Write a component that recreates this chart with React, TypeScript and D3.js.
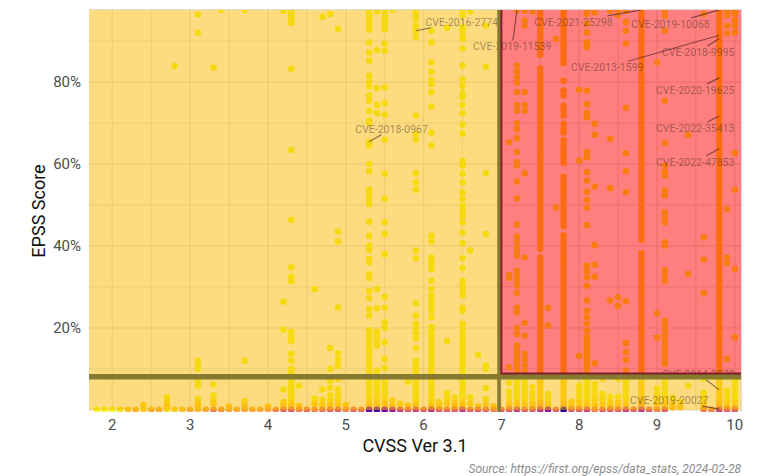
import React from "react";
import * as d3 from "d3";

// ---- EPSS (percent) of CVEs, grouped by CVSS v3.1 base score ----
const cvss24 = [1.2];
const cvss27 = [3.0, 2.0, 0.9];
const cvss28 = [83.9];
const cvss31 = [96.4, 92.0, 12.0, 11.2, 10.0, 7.1, 5.9, 2.7, 1.9, 1.1];
const cvss33 = [83.5, 6.2, 3.5, 2.4, 1.5];
const cvss34 = [97.6];
const cvss35 = [0.8];
const cvss37 = [97.6, 12.0, 2.2, 1.0];
const cvss40 = [0.8];
const cvss42 = [97.3, 26.4, 19.6, 5.0, 2.0, 1.0];
const cvss43 = [97.6, 96.8, 96.0, 95.2, 94.4, 83.2, 63.4, 46.4, 34.8, 32.5, 31.4, 19.0, 17.7, 16.8, 13.7, 12.0, 10.0, 9.0, 8.0, 7.0, 6.0, 5.0, 4.0, 3.0, 2.0, 1.0];
const cvss44 = [5.9, 1.0];
const cvss46 = [29.5, 2.7, 1.5];
const cvss47 = [95.9, 5.0, 2.5, 1.2];
const cvss48 = [96.6, 15.1, 10.0, 7.1, 5.4, 3.5, 2.2, 1.0];
const cvss49 = [92.9, 43.5, 41.1, 25.0, 13.8, 12.2, 10.8, 7.6, 5.0, 3.8, 2.6, 1.4];
const cvss50 = [1.2];
const cvss53 = [97.6, 96.8, 96.0, 95.2, 94.4, 93.6, 92.8, 89.7, 87.2, 85.2, 81.5, 80.1, 78.9, 76.7, 75.4, 72.9, 70.6, 70.0, 65.4, 64.5, 60.0, 58.2, 53.7, 52.5, 51.4, 50.2, 45.9, 42.4, 40.1, 39.0, 36.8, 36.0, 33.0, 32.2, 29.0, 27.3, 24.6, 23.0, 19.5, 18.5, 17.5, 16.5, 15.5, 14.5, 13.5, 12.5, 11.5, 10.5, 9.5, 8.5, 7.5, 6.5, 5.5, 4.5, 3.5, 2.5, 1.5, 0.8];
const cvss54 = [97.2, 87.8, 78.5, 74.4, 72.4, 29.5, 24.8, 19.1, 18.0, 16.8, 15.7, 9.6, 8.6, 7.6, 6.6, 5.6, 4.6, 3.6, 2.6, 1.6, 0.7];
const cvss55 = [97.6, 96.8, 96.0, 95.2, 94.4, 93.6, 92.9, 89.3, 87.6, 78.7, 74.8, 72.0, 65.9, 57.6, 51.5, 45.8, 42.9, 38.0, 27.6, 25.0, 21.4, 20.0, 16.5, 12.4, 10.2, 6.8, 5.8, 4.8, 3.8, 2.8, 1.8, 0.8];
const cvss56 = [97.6, 2.3, 1.0];
const cvss57 = [1.5];
const cvss58 = [6.9, 1.0];
const cvss59 = [97.6, 96.6, 95.4, 93.7, 92.5, 91.0, 71.8, 67.3, 65.9, 57.7, 55.5, 53.7, 38.9, 37.0, 26.0, 23.0, 21.0, 19.9, 18.7, 17.5, 15.1, 12.0, 11.0, 10.0, 9.0, 8.0, 7.0, 6.0, 5.0, 4.0, 3.0, 2.0, 1.0];
const cvss61 = [92.5, 89.7, 84.8, 82.5, 80.5, 79.5, 77.5, 74.0, 67.6, 64.5, 42.5, 41.1, 37.2, 36.2, 35.4, 34.4, 31.5, 29.5, 27.9, 26.7, 25.5, 24.2, 22.6, 20.2, 19.2, 18.2, 17.2, 16.2, 15.2, 14.2, 13.2, 12.2, 11.2, 10.2, 9.2, 8.2, 7.2, 6.2, 5.2, 4.2, 3.2, 2.2, 1.2, 0.5];
const cvss62 = [1.9, 0.8];
const cvss63 = [93.2, 16.8, 4.1, 2.7, 1.5];
const cvss64 = [3.1, 1.8, 0.8];
const cvss65 = [97.6, 96.3, 93.3, 92.4, 91.0, 90.5, 88.2, 84.0, 80.6, 79.0, 77.2, 76.3, 74.4, 72.4, 69.6, 67.4, 60.7, 59.6, 57.6, 55.5, 53.1, 51.5, 49.8, 48.6, 47.4, 45.8, 43.3, 40.7, 37.0, 34.6, 31.5, 30.3, 29.1, 27.9, 24.9, 24.2, 21.0, 19.9, 18.7, 17.6, 16.4, 15.4, 14.4, 13.4, 12.4, 11.4, 10.4, 9.4, 8.4, 7.4, 6.4, 5.4, 4.4, 3.4, 2.4, 1.4, 0.6];
const cvss66 = [97.2, 38.9, 3.1, 1.6];
const cvss67 = [13.4, 0.8];
const cvss68 = [93.7, 83.7, 57.8, 42.9, 10.8, 10.0, 5.3, 2.6, 1.3];
const cvss69 = [0.8];
const cvss71 = [65.3, 32.9, 32.2, 10.4, 6.6, 4.4, 3.0, 1.6, 0.6];
const cvss72 = [97.5, 84.0, 82.5, 81.1, 79.8, 77.5, 74.4, 73.0, 70.0, 68.5, 66.3, 62.9, 60.5, 59.6, 55.7, 51.6, 45.2, 42.3, 41.0, 39.6, 38.3, 37.6, 34.0, 32.8, 31.7, 30.3, 28.5, 25.0, 23.8, 20.0, 18.5, 15.7, 14.7, 13.7, 12.7, 11.7, 10.7, 9.7, 8.7, 7.7, 6.7, 5.7, 4.7, 3.7, 2.7, 1.7, 0.7];
const cvss73 = [97.4, 95.0, 93.7, 77.5, 74.4, 73.0, 57.7, 37.2, 21.2, 18.1, 13.7, 12.3, 10.9, 9.6, 7.2, 6.2, 5.2, 4.2, 3.2, 2.2, 1.2];
const cvss74 = [97.2, 5.6, 4.2, 2.9, 1.6, 0.6];
const cvss75 = [97.6, 96.5, 95.4, 94.3, 93.2, 92.1, 91.0, 89.9, 88.8, 87.7, 86.6, 83.3, 82.2, 81.1, 80.0, 78.9, 77.8, 76.7, 75.6, 74.5, 73.4, 72.3, 71.2, 70.1, 69.0, 67.9, 66.8, 65.7, 64.6, 63.5, 62.4, 61.3, 60.2, 59.1, 58.0, 56.9, 55.8, 54.7, 53.6, 52.5, 51.4, 50.3, 49.2, 48.1, 47.0, 45.9, 44.8, 43.7, 42.6, 41.5, 40.4, 39.3, 37.1, 36.0, 34.9, 33.8, 32.7, 31.6, 30.5, 29.4, 28.3, 27.2, 26.1, 25.0, 23.9, 22.8, 21.7, 20.6, 19.5, 18.4, 17.3, 16.2, 15.1, 14.0, 12.9, 11.8, 10.7, 9.6, 8.5, 7.4, 6.3, 5.2, 4.1, 3.0, 1.9, 0.8];
const cvss76 = [24.9, 20.6, 3.9, 2.7, 1.5, 0.6];
const cvss77 = [90.5, 49.4];
const cvss78 = [97.6, 96.6, 95.6, 94.6, 93.6, 92.6, 91.6, 90.6, 89.6, 88.6, 87.6, 86.6, 85.6, 84.6, 80.3, 77.9, 76.7, 74.2, 73.0, 71.8, 69.8, 68.5, 67.7, 65.8, 64.7, 63.6, 62.5, 61.4, 60.3, 56.9, 55.8, 54.7, 53.6, 52.5, 51.4, 50.3, 49.2, 48.1, 47.0, 45.9, 44.8, 42.6, 41.5, 40.4, 39.3, 38.2, 37.1, 36.0, 34.9, 33.8, 32.7, 31.6, 30.5, 29.4, 28.3, 27.2, 26.1, 25.0, 23.9, 22.8, 21.7, 20.6, 19.5, 18.4, 17.3, 16.2, 15.1, 14.0, 12.9, 11.8, 10.7, 9.6, 8.5, 7.4, 6.3, 5.2, 4.1, 3.0, 1.9, 0.8];
const cvss79 = [2.0, 0.8];
const cvss80 = [78.1, 60.8, 13.2, 5.9, 4.6, 3.3, 2.0, 0.7];
const cvss81 = [97.6, 96.6, 94.2, 92.1, 89.7, 88.5, 77.9, 74.6, 72.4, 71.4, 62.9, 61.6, 58.0, 55.9, 53.2, 51.2, 49.3, 45.1, 35.2, 33.8, 32.3, 30.3, 26.7, 24.2, 22.6, 21.0, 19.3, 17.7, 16.7, 15.7, 14.7, 13.7, 12.7, 11.7, 10.7, 9.7, 8.7, 7.7, 6.7, 5.7, 4.7, 3.7, 2.7, 1.7, 0.7];
const cvss82 = [97.0, 69.8, 67.1, 54.5, 40.2, 35.4, 32.5, 11.4, 6.3, 5.0, 3.7, 2.4, 1.1];
const cvss83 = [7.6, 3.9, 2.6, 1.3];
const cvss84 = [97.4, 66.1, 54.1, 26.7, 3.2, 1.8, 0.7];
const cvss85 = [97.6, 96.3, 27.5, 25.4, 7.6, 3.2, 1.8, 0.7];
const cvss86 = [97.4, 94.6, 92.5, 89.4, 73.7, 62.6, 58.2, 53.1, 26.5, 16.3, 14.1, 12.2, 9.6, 8.4, 7.2, 6.0, 4.8, 3.6, 2.4, 1.2];
const cvss88 = [97.6, 96.5, 95.4, 94.3, 93.2, 92.1, 91.0, 89.9, 88.8, 87.7, 86.6, 85.5, 84.4, 83.3, 82.2, 81.1, 80.0, 78.9, 77.8, 76.7, 75.6, 74.5, 73.4, 72.3, 71.2, 70.1, 69.0, 67.9, 66.8, 65.7, 64.6, 63.5, 62.4, 61.3, 60.2, 59.1, 58.0, 56.9, 55.8, 54.7, 53.6, 52.5, 51.4, 50.3, 49.2, 48.1, 47.0, 45.9, 44.8, 43.7, 42.6, 41.5, 38.2, 37.1, 36.0, 34.9, 33.8, 32.7, 31.6, 30.5, 29.4, 28.3, 27.2, 26.1, 25.0, 23.9, 22.8, 21.7, 20.6, 19.5, 18.4, 17.3, 16.2, 15.1, 14.0, 12.9, 11.8, 10.7, 9.6, 8.5, 7.4, 6.3, 5.2, 4.1, 3.0, 1.9, 0.8];
const cvss90 = [84.8, 23.6, 17.7, 5.2, 3.9, 2.6, 1.3];
const cvss91 = [97.6, 96.2, 92.5, 75.4, 65.1, 59.6, 58.1, 57.1, 53.5, 52.3, 48.2, 47.1, 45.8, 40.9, 40.1, 34.1, 32.9, 31.5, 21.8, 20.6, 19.4, 18.2, 17.0, 15.8, 14.6, 13.4, 12.2, 11.2, 7.6, 6.4, 5.2, 4.0, 2.8, 1.6, 0.7];
const cvss92 = [3.0, 1.6, 0.6];
const cvss93 = [1.9, 0.7];
const cvss94 = [67.1, 33.2, 5.9];
const cvss96 = [96.6, 42.1, 36.7, 28.5, 7.6, 4.2, 2.9, 1.6, 0.6];
const cvss98 = [97.6, 96.5, 95.4, 94.3, 93.2, 92.1, 91.0, 89.9, 88.8, 87.7, 86.6, 85.5, 84.4, 83.3, 82.2, 81.1, 80.0, 78.9, 77.8, 76.7, 75.6, 74.5, 73.4, 72.3, 71.2, 70.1, 69.0, 67.9, 66.8, 65.7, 64.6, 63.5, 62.4, 61.3, 60.2, 59.1, 58.0, 56.9, 55.8, 54.7, 53.6, 52.5, 51.4, 50.3, 49.2, 48.1, 47.0, 45.9, 44.8, 43.7, 42.6, 41.5, 40.4, 39.3, 38.2, 37.1, 36.0, 34.9, 33.8, 32.7, 31.6, 30.5, 29.4, 28.3, 27.2, 26.1, 25.0, 23.9, 22.8, 21.7, 20.6, 19.5, 18.4, 17.3, 16.2, 15.1, 14.0, 12.9, 11.8, 10.7, 9.6, 8.5, 7.4, 6.3, 5.2, 4.1, 3.0, 1.9, 0.8];
const cvss99 = [97.4, 96.2, 93.7, 91.9, 49.0, 37.2, 35.8, 12.4, 4.7, 3.4, 2.1, 0.8];
const cvss100 = [97.4, 96.6, 95.0, 93.7, 92.1, 62.7, 53.7, 34.4, 17.7, 7.1, 5.9, 4.6, 3.3, 2.0, 0.7];

// Heavily populated score columns render one step darker on the plasma ramp
const denseScores = [7.5, 7.8, 8.8, 9.8];

const columns: { score: number; epss: number[] }[] = [
  { score: 2.4, epss: cvss24 }, { score: 2.7, epss: cvss27 }, { score: 2.8, epss: cvss28 },
  { score: 3.1, epss: cvss31 }, { score: 3.3, epss: cvss33 }, { score: 3.4, epss: cvss34 },
  { score: 3.5, epss: cvss35 }, { score: 3.7, epss: cvss37 }, { score: 4.0, epss: cvss40 },
  { score: 4.2, epss: cvss42 }, { score: 4.3, epss: cvss43 }, { score: 4.4, epss: cvss44 },
  { score: 4.6, epss: cvss46 }, { score: 4.7, epss: cvss47 }, { score: 4.8, epss: cvss48 },
  { score: 4.9, epss: cvss49 }, { score: 5.0, epss: cvss50 }, { score: 5.3, epss: cvss53 },
  { score: 5.4, epss: cvss54 }, { score: 5.5, epss: cvss55 }, { score: 5.6, epss: cvss56 },
  { score: 5.7, epss: cvss57 }, { score: 5.8, epss: cvss58 }, { score: 5.9, epss: cvss59 },
  { score: 6.1, epss: cvss61 }, { score: 6.2, epss: cvss62 }, { score: 6.3, epss: cvss63 },
  { score: 6.4, epss: cvss64 }, { score: 6.5, epss: cvss65 }, { score: 6.6, epss: cvss66 },
  { score: 6.7, epss: cvss67 }, { score: 6.8, epss: cvss68 }, { score: 6.9, epss: cvss69 },
  { score: 7.1, epss: cvss71 }, { score: 7.2, epss: cvss72 }, { score: 7.3, epss: cvss73 },
  { score: 7.4, epss: cvss74 }, { score: 7.5, epss: cvss75 }, { score: 7.6, epss: cvss76 },
  { score: 7.7, epss: cvss77 }, { score: 7.8, epss: cvss78 }, { score: 7.9, epss: cvss79 },
  { score: 8.0, epss: cvss80 }, { score: 8.1, epss: cvss81 }, { score: 8.2, epss: cvss82 },
  { score: 8.3, epss: cvss83 }, { score: 8.4, epss: cvss84 }, { score: 8.5, epss: cvss85 },
  { score: 8.6, epss: cvss86 }, { score: 8.8, epss: cvss88 }, { score: 9.0, epss: cvss90 },
  { score: 9.1, epss: cvss91 }, { score: 9.2, epss: cvss92 }, { score: 9.3, epss: cvss93 },
  { score: 9.4, epss: cvss94 }, { score: 9.6, epss: cvss96 }, { score: 9.8, epss: cvss98 },
  { score: 9.9, epss: cvss99 }, { score: 10.0, epss: cvss100 },
];

// Near-zero EPSS row: one marker per score, shaded by how many CVEs pile up there (1 = few)
const floorScores = [1.8, 1.9, 2.0, 2.1, 2.2, 2.3, 2.4, 2.5, 2.6, 2.7, 2.8, 2.9, 3.0, 3.1, 3.2, 3.3, 3.4, 3.5, 3.6, 3.7, 3.8, 3.9, 4.0, 4.1, 4.2, 4.3, 4.4, 4.5, 4.6, 4.7, 4.8, 4.9, 5.0, 5.1, 5.2, 5.3, 5.4, 5.5, 5.6, 5.7, 5.8, 5.9, 6.0, 6.1, 6.2, 6.3, 6.4, 6.5, 6.6, 6.7, 6.8, 6.9, 7.0, 7.1, 7.2, 7.3, 7.4, 7.5, 7.6, 7.7, 7.8, 7.9, 8.0, 8.1, 8.2, 8.3, 8.4, 8.5, 8.6, 8.7, 8.8, 8.9, 9.0, 9.1, 9.6, 9.7, 9.8, 9.9, 10.0];
const floorShade = [1.0, 1.0, 1.0, 0.95, 0.88, 0.82, 0.9, 0.82, 0.82, 0.92, 0.9, 0.86, 0.8, 0.86, 0.8, 0.7, 0.75, 0.8, 0.8, 0.8, 0.8, 0.8, 0.78, 0.7, 0.62, 0.6, 0.7, 0.64, 0.7, 0.66, 0.62, 0.6, 0.7, 0.62, 0.64, 0.2, 0.12, 0.22, 0.35, 0.5, 0.6, 0.5, 0.6, 0.45, 0.6, 0.6, 0.6, 0.45, 0.6, 0.6, 0.62, 0.7, 0.6, 0.6, 0.48, 0.6, 0.6, 0.45, 0.32, 0.6, 0.03, 0.6, 0.6, 0.5, 0.7, 0.6, 0.6, 0.6, 0.5, 0.6, 0.45, 0.6, 0.7, 0.6, 0.7, 0.7, 0.5, 0.6, 0.6];

// Highlighted CVEs
const labelIds = ["CVE-2016-2774", "CVE-2018-0967", "CVE-2019-11539", "CVE-2021-25298", "CVE-2019-10068", "CVE-2018-9995", "CVE-2013-1599", "CVE-2020-19625", "CVE-2022-35413", "CVE-2022-47853", "CVE-2014-3270", "CVE-2019-20027"];
const labelScores = [5.9, 5.3, 7.2, 8.8, 9.8, 9.8, 9.8, 9.8, 9.8, 9.8, 9.8, 9.8];
const labelEpss = [92.5, 65.4, 97.5, 97.6, 97.6, 90.6, 91.4, 81.0, 71.7, 63.7, 4.9, 0.2];
// repelled label offsets (px, label centre relative to its point)
const labelNudge: [number, number][] = [[46, -9], [22.5, -13], [-4.7, 36], [-68, 12], [-48.7, 14], [-21, 13.5], [-112, 32], [-24, 12], [-24, 12], [-24, 13], [-21, -16], [-50, -9]];

const xTicks = [2, 3, 4, 5, 6, 7, 8, 9, 10];
const yTicks = [0.2, 0.4, 0.6, 0.8];

// Priority zone: CVSS >= 7 and EPSS above the guide
const zoneCvss = 7;
const zoneEpss = 0.089;
const guideCvss = 6.97;
const guideEpss = 0.081;

const FONT = "Roboto, 'DejaVu Sans', sans-serif";
const W = 762;
const H = 476;
const panel = { left: 89, right: 741, top: 10, bottom: 412 };

const x = d3.scaleLinear().domain([1.7, 10.08]).range([panel.left, panel.right]);
const y = d3.scaleLinear().domain([-0.005, 0.9756]).range([panel.bottom, panel.top]);

const lowShift = d3.scaleLinear().domain([0, 3]).range([0.16, 0]).clamp(true);

let measureCtx: CanvasRenderingContext2D | null = null;
function textWidth(s: string, font: string) {
  if (typeof document === "undefined") return s.length * 5.6;
  if (!measureCtx) measureCtx = document.createElement("canvas").getContext("2d");
  if (!measureCtx) return s.length * 5.6;
  measureCtx.font = font;
  return measureCtx.measureText(s).width;
}

export default function App() {
  const r = 3.3;
  const xMajor = xTicks;
  const xMinor = d3.range(2.5, 10, 1);
  const yMajor = [0, 0.2, 0.4, 0.6, 0.8];
  const yMinor = [0.1, 0.3, 0.5, 0.7, 0.9];

  const points: { cx: number; cy: number; fill: string }[] = [];
  columns.forEach((c) => {
    const tone = denseScores.includes(c.score) ? 0.92 : 1;
    c.epss.forEach((e) => {
      points.push({
        cx: x(c.score),
        cy: y(e / 100),
        fill: d3.interpolatePlasma(tone - lowShift(e)),
      });
    });
  });

  const labelFont = `10.5px ${FONT}`;
  const labels = labelIds.map((id, i) => {
    const px = x(labelScores[i]);
    const py = y(labelEpss[i] / 100);
    const cx = px + labelNudge[i][0];
    const cy = py + labelNudge[i][1];
    const hw = textWidth(id, labelFont) / 2 + 1.5;
    const hh = 6;
    const vx = px - cx;
    const vy = py - cy;
    const t = Math.min(vx !== 0 ? hw / Math.abs(vx) : Infinity, vy !== 0 ? hh / Math.abs(vy) : Infinity);
    return { id, px, py, cx, cy, sx: cx + vx * t, sy: cy + vy * t };
  });

  const x7 = x(zoneCvss);
  const yZone = y(zoneEpss);
  const y0 = y(0);

  return (
    <svg
      width={W}
      height={H}
      style={{ position: "absolute", left: 0, top: 0, background: "#fff" }}
      fontFamily={FONT}
    >
      <defs>
        <clipPath id="panel-clip">
          <rect x={panel.left} y={panel.top} width={panel.right - panel.left} height={panel.bottom - panel.top} />
        </clipPath>
      </defs>

      {/* panel frame */}
      <line x1={panel.left} x2={panel.right + 1} y1={panel.top - 0.5} y2={panel.top - 0.5} stroke="#dcdcdc" />
      <line x1={panel.right + 0.5} x2={panel.right + 0.5} y1={panel.top - 1} y2={panel.bottom} stroke="#dcdcdc" />

      <g clipPath="url(#panel-clip)">
        {/* grid */}
        {xMinor.map((v) => (
          <line key={`xm${v}`} x1={x(v)} x2={x(v)} y1={panel.top} y2={panel.bottom} stroke="#e4e4e4" strokeWidth={1.2} />
        ))}
        {xMajor.map((v) => (
          <line key={`xM${v}`} x1={x(v)} x2={x(v)} y1={panel.top} y2={panel.bottom} stroke="#e4e4e4" strokeWidth={1.5} />
        ))}
        {yMinor.map((v) => (
          <line key={`ym${v}`} y1={y(v)} y2={y(v)} x1={panel.left} x2={panel.right} stroke="#e4e4e4" strokeWidth={1.2} />
        ))}
        {yMajor.map((v) => (
          <line key={`yM${v}`} y1={y(v)} y2={y(v)} x1={panel.left} x2={panel.right} stroke="#e4e4e4" strokeWidth={1.5} />
        ))}

        {/* CVEs */}
        {points.map((p, i) => (
          <circle key={`p${i}`} cx={p.cx} cy={p.cy} r={r} fill={p.fill} />
        ))}
        {floorScores.map((s, i) => (
          <circle key={`f${i}`} cx={x(s)} cy={y(0.0004)} r={r} fill={d3.interpolatePlasma(floorShade[i])} />
        ))}

        {/* shaded zones */}
        <rect x={panel.left} y={panel.top} width={x7 - panel.left} height={y0 - panel.top} fill="rgb(251,185,0)" fillOpacity={0.5} />
        <rect x={x7} y={yZone} width={panel.right - x7} height={y0 - yZone} fill="rgb(251,185,0)" fillOpacity={0.5} />
        <rect x={x7} y={panel.top} width={panel.right - x7} height={yZone - panel.top} fill="#ff0000" fillOpacity={0.5} />

        {/* labels */}
        {labels.map((l) => (
          <g key={l.id}>
            <line x1={l.sx} y1={l.sy} x2={l.px} y2={l.py} stroke="#3a1a1a" strokeOpacity={0.6} strokeWidth={1.2} />
            <text x={l.cx} y={l.cy} dy="0.36em" textAnchor="middle" fontSize={10.5} fill="#2a2018" fillOpacity={0.45}>
              {l.id}
            </text>
          </g>
        ))}

        {/* guides */}
        <line x1={x(guideCvss)} x2={x(guideCvss)} y1={panel.top} y2={panel.bottom} stroke="#857a30" strokeWidth={3.5} />
        <line x1={panel.left} x2={panel.right} y1={y(guideEpss)} y2={y(guideEpss)} stroke="#857a30" strokeWidth={5.5} />
        <path
          d={`M${panel.right + 3},${yZone} H${x7} V${panel.top - 3}`}
          fill="none"
          stroke="#801c2a"
          strokeWidth={2}
        />
      </g>

      {/* axes */}
      {xTicks.map((v) => (
        <text key={`xt${v}`} x={x(v)} y={430} textAnchor="middle" fontSize={15} fill="#4d4d4d">
          {v}
        </text>
      ))}
      {yTicks.map((v) => (
        <text key={`yt${v}`} x={81} y={y(v)} dy="0.36em" textAnchor="end" fontSize={15} fill="#4d4d4d">
          {d3.format(".0%")(v)}
        </text>
      ))}
      <text x={(panel.left + panel.right) / 2} y={452} textAnchor="middle" fontSize={18} fill="#111">
        CVSS Ver 3.1
      </text>
      <text transform={`translate(44.5,${(panel.top + panel.bottom) / 2}) rotate(-90)`} textAnchor="middle" fontSize={18} fill="#111">
        EPSS Score
      </text>
      <text x={panel.right} y={473} textAnchor="end" fontSize={12} fontStyle="italic" fill="#8c8c8c">
        Source: https://first.org/epss/data_stats, 2024-02-28
      </text>
    </svg>
  );
}
